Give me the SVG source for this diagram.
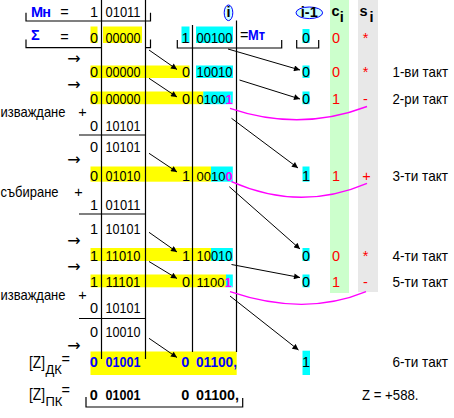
<svg xmlns="http://www.w3.org/2000/svg" width="454" height="418" viewBox="0 0 454 418">
<style>
text{font-family:"Liberation Sans",Arial,sans-serif;font-size:14.5px;fill:#000}
.b{font-weight:bold}
.blue{fill:#0000ff}
.red{fill:#ff0000}
.mag{fill:#ff00ff;font-weight:bold}
.m{text-anchor:middle}
.y{fill:#ffff00}
.c{fill:#00ffff}
.ln{stroke:#000;stroke-width:1.2;fill:none}
.ar{stroke:#000;stroke-width:1;fill:none;marker-end:url(#ah)}
.cv{stroke:#ff00ff;stroke-width:1.4;fill:none}
.sym{font-family:"DejaVu Sans",sans-serif;font-size:16px}
.sub{font-size:13px}
.z{font-size:16px}
.nw{font-size:13px}
</style>
<defs>
<marker id="ah" viewBox="0 0 10 10" refX="10" refY="5" markerWidth="7" markerHeight="6" markerUnits="userSpaceOnUse" orient="auto"><path d="M0,0 L10,5 L0,10 z" fill="#000"/></marker>
</defs>
<rect width="454" height="418" fill="#fff"/>

<g id="columns">
<rect x="330" y="0" width="19" height="293" fill="#ccffcc"/>
<rect x="358" y="0" width="20" height="292" fill="#e8e8e8"/>
</g>

<g id="highlights">
<rect class="y" x="90.5" y="26.5" width="7" height="16.5"/>
<rect class="y" x="103" y="26.5" width="39" height="16.5"/>
<rect class="c" x="181.5" y="26.5" width="8" height="16.5"/>
<rect class="c" x="196" y="26.5" width="37" height="16.5"/>
<rect class="c" x="302.5" y="29" width="7" height="14"/>

<rect class="y" x="90.5" y="65.5" width="99" height="12.5"/>
<rect class="c" x="196" y="65.5" width="37" height="12.5"/>
<rect class="c" x="302.5" y="65.5" width="7" height="12.5"/>

<rect class="y" x="90.5" y="91.5" width="113" height="12.7"/>
<rect class="c" x="203.3" y="91.5" width="29.5" height="12.7"/>
<rect class="c" x="302.5" y="91.5" width="7" height="12.7"/>

<rect class="y" x="90.5" y="166.5" width="120.5" height="15.2"/>
<rect class="c" x="211" y="166.5" width="21.8" height="15.2"/>
<rect class="c" x="302.5" y="166.5" width="7" height="15.2"/>

<rect class="y" x="90.5" y="248" width="120.5" height="13"/>
<rect class="c" x="211" y="248" width="21.8" height="13"/>
<rect class="c" x="302.5" y="248" width="7" height="13"/>

<rect class="y" x="90.5" y="274.5" width="135.5" height="12.8"/>
<rect class="c" x="226" y="274.5" width="6.8" height="12.8"/>
<rect class="c" x="302.5" y="274.5" width="7" height="12.8"/>

<rect class="y" x="90.5" y="351.5" width="146.2" height="23.5"/>
<rect class="c" x="302.5" y="350.7" width="7.5" height="24.3"/>
</g>

<g id="grid">
<line class="ln" x1="101.5" y1="0" x2="101.5" y2="359"/>
<line class="ln" x1="145.5" y1="0" x2="145.5" y2="359"/>
<line class="ln" x1="192.5" y1="25" x2="192.5" y2="352"/>
<line class="ln" x1="236.5" y1="20.5" x2="236.5" y2="352"/>
<line class="ln" x1="79" y1="135" x2="145.5" y2="135"/>
<line class="ln" x1="79" y1="214" x2="145.5" y2="214"/>
<line class="ln" x1="79" y1="318.5" x2="145.5" y2="318.5"/>
<path class="ln" d="M26,12.7 V21 H150.5 V12.7"/>
<path class="ln" d="M26,39.5 V47.7 H101.5 M150.5,39.5 V47.7 H145.5"/>
<path class="ln" d="M177.3,40 V48 H281.7 V40"/>
<path class="ln" d="M296.7,40 V48 H318.7 V40"/>
<path class="ln" d="M86,397 V407 H242.7 V398"/>
</g>

<g id="header">
<text class="b blue" x="31" y="16.5" textLength="20" lengthAdjust="spacing">Мн</text>
<text class="m" x="64.5" y="17">=</text>
<text class="m" x="94" y="17">1</text>
<text x="105.5" y="17" textLength="35" lengthAdjust="spacingAndGlyphs">01011</text>
<ellipse cx="228.5" cy="12.8" rx="4.3" ry="7.8" fill="#ccffff" stroke="#0000ff" stroke-width="1"/>
<text class="b m" x="228.5" y="17.3" font-size="12">i</text>
<ellipse cx="309.3" cy="12.8" rx="13.3" ry="5.8" fill="#ccffff" stroke="#0000ff" stroke-width="1"/>
<text class="b m" x="309.3" y="17" font-size="12">i-1</text>
<text class="b" x="331.5" y="16" font-size="15">c</text>
<text class="b" x="339.8" y="21.5" font-size="12">i</text>
<text class="b" x="359.5" y="16" font-size="15">s</text>
<text class="b" x="369.5" y="21.5" font-size="12">i</text>
</g>

<g id="row-sum">
<text class="b blue" x="31" y="40" font-size="13">Σ</text>
<text class="m" x="64.5" y="42">=</text>
<text class="m" x="94" y="42.5">0</text>
<text x="105.5" y="42.5" textLength="35" lengthAdjust="spacingAndGlyphs">00000</text>
<text class="m" x="185.5" y="42.5">1</text>
<text x="196.5" y="42.5" textLength="36" lengthAdjust="spacingAndGlyphs">00100</text>
<text x="240" y="40">=</text>
<text class="b blue" x="248" y="40" textLength="17" lengthAdjust="spacingAndGlyphs">Мт</text>
<text class="m" x="306" y="42.5">0</text>
<text class="m red" x="336" y="42.5">0</text>
<text class="m red" x="365.5" y="42.5">*</text>
</g>

<g id="shift-arrows">
<text class="sym m" x="74" y="63.5">→</text>
<text class="sym m" x="74" y="90.2">→</text>
<text class="sym m" x="74" y="164.5">→</text>
<text class="sym m" x="74" y="246.2">→</text>
<text class="sym m" x="74" y="271.9">→</text>
<text class="sym m" x="74" y="351.2">→</text>
</g>

<g id="takt1">
<text class="m" x="94" y="77">0</text>
<text x="105.5" y="77" textLength="35" lengthAdjust="spacingAndGlyphs">00000</text>
<text class="m" x="186" y="77">0</text>
<text x="196.5" y="77" textLength="36" lengthAdjust="spacingAndGlyphs">10010</text>
<text class="m" x="306" y="77">0</text>
<text class="m red" x="336" y="77">0</text>
<text class="m red" x="365.5" y="77">*</text>
<text x="392.5" y="77" textLength="55.5" lengthAdjust="spacingAndGlyphs">1-ви такт</text>
</g>

<g id="takt2">
<text class="m" x="94" y="103.5">0</text>
<text x="105.5" y="103.5" textLength="35" lengthAdjust="spacingAndGlyphs">00000</text>
<text class="m" x="186" y="103.5">0</text>
<text class="nw" x="196.5" y="103.5">0100<tspan class="mag">1</tspan></text>
<text class="m" x="306" y="103.5">0</text>
<text class="m red" x="336" y="103.5">1</text>
<text class="m red" x="365.5" y="103.5">-</text>
<text x="392.5" y="103.5" textLength="55.5" lengthAdjust="spacingAndGlyphs">2-ри такт</text>
<text x="0.5" y="117" textLength="65" lengthAdjust="spacingAndGlyphs">изваждане</text>
<text class="m" x="82.5" y="117">+</text>
<text class="m" x="94" y="130.7">0</text>
<text x="105.5" y="130.7" textLength="35" lengthAdjust="spacingAndGlyphs">10101</text>
<text class="m" x="94" y="151.7">0</text>
<text x="105.5" y="151.7" textLength="35" lengthAdjust="spacingAndGlyphs">10101</text>
</g>

<g id="takt3">
<text class="m" x="94" y="180.5">0</text>
<text x="105.5" y="180.5" textLength="35" lengthAdjust="spacingAndGlyphs">01010</text>
<text class="m" x="186" y="180.5">1</text>
<text class="nw" x="196.5" y="180.5">0010<tspan class="mag">0</tspan></text>
<text class="m" x="306" y="180.5">1</text>
<text class="m red" x="336" y="180.5">1</text>
<text class="m red" x="366.5" y="180.5">+</text>
<text x="392.5" y="180.5" textLength="55.5" lengthAdjust="spacingAndGlyphs">3-ти такт</text>
<text x="0.5" y="196.5" textLength="58" lengthAdjust="spacingAndGlyphs">събиране</text>
<text class="m" x="78.5" y="196.5">+</text>
<text class="m" x="94" y="210">1</text>
<text x="105.5" y="210" textLength="35" lengthAdjust="spacingAndGlyphs">01011</text>
<text class="m" x="94" y="234">1</text>
<text x="105.5" y="234" textLength="35" lengthAdjust="spacingAndGlyphs">10101</text>
</g>

<g id="takt4">
<text class="m" x="94" y="260.7">1</text>
<text x="105.5" y="260.7" textLength="35" lengthAdjust="spacingAndGlyphs">11010</text>
<text class="m" x="186" y="260.7">1</text>
<text x="196.5" y="260.7" textLength="36" lengthAdjust="spacingAndGlyphs">10010</text>
<text class="m" x="306" y="260.7">0</text>
<text class="m red" x="336" y="260.7">0</text>
<text class="m red" x="365.5" y="260.7">*</text>
<text x="392.5" y="260.7" textLength="55.5" lengthAdjust="spacingAndGlyphs">4-ти такт</text>
</g>

<g id="takt5">
<text class="m" x="94" y="286.7">1</text>
<text x="105.5" y="286.7" textLength="35" lengthAdjust="spacingAndGlyphs">11101</text>
<text class="m" x="186" y="286.7">0</text>
<text class="nw" x="196.5" y="286.7">1100<tspan class="mag">1</tspan></text>
<text class="m" x="306" y="286.7">0</text>
<text class="m red" x="336" y="286.7">1</text>
<text class="m red" x="365.5" y="286.7">-</text>
<text x="392.5" y="286.7" textLength="55.5" lengthAdjust="spacingAndGlyphs">5-ти такт</text>
<text x="0.5" y="300" textLength="65" lengthAdjust="spacingAndGlyphs">изваждане</text>
<text class="m" x="82.5" y="300">+</text>
<text class="m" x="94" y="313.3">0</text>
<text x="105.5" y="313.3" textLength="35" lengthAdjust="spacingAndGlyphs">10101</text>
<text class="m" x="94" y="336.7">0</text>
<text x="105.5" y="336.7" textLength="35" lengthAdjust="spacingAndGlyphs">10010</text>
</g>

<g id="takt6">
<text class="z" x="29" y="367.5" textLength="16" lengthAdjust="spacingAndGlyphs">[Z]</text>
<text class="sub" x="45.5" y="374">ДК</text>
<text x="61.5" y="364">=</text>
<text class="b blue m" x="93.7" y="366.7">0</text>
<text class="b blue" x="105.5" y="366.7" textLength="35" lengthAdjust="spacingAndGlyphs">01001</text>
<text class="b blue m" x="185.3" y="366.7">0</text>
<text class="b blue" x="196" y="366.7" textLength="41" lengthAdjust="spacingAndGlyphs">01100,</text>
<text class="m" x="306" y="367">1</text>
<text x="392.5" y="367" textLength="55.5" lengthAdjust="spacingAndGlyphs">6-ти такт</text>
</g>

<g id="result">
<text class="z" x="29" y="399.5" textLength="16" lengthAdjust="spacingAndGlyphs">[Z]</text>
<text class="sub" x="45.5" y="405.5">ПК</text>
<text x="61.5" y="395">=</text>
<text class="b m" x="93.7" y="400">0</text>
<text class="b" x="105.5" y="400" textLength="35" lengthAdjust="spacingAndGlyphs">01001</text>
<text class="b m" x="185.3" y="400">0</text>
<text class="b" x="196" y="400" textLength="43" lengthAdjust="spacingAndGlyphs">01100,</text>
<text x="362" y="400" textLength="56.5" lengthAdjust="spacingAndGlyphs">Z = +588.</text>
</g>

<g id="connectors">
<line class="ar" x1="149" y1="50" x2="177" y2="69.5"/>
<line class="ar" x1="149" y1="78.3" x2="177" y2="97"/>
<line class="ar" x1="149" y1="153.3" x2="177" y2="172"/>
<line class="ar" x1="149" y1="232.3" x2="177" y2="252"/>
<line class="ar" x1="149" y1="261.5" x2="177" y2="278.5"/>
<line class="ar" x1="149" y1="338.3" x2="177" y2="357.5"/>
<line class="ar" x1="228" y1="49" x2="300" y2="70"/>
<line class="ar" x1="239.5" y1="80" x2="300" y2="99"/>
<line class="ar" x1="231.5" y1="118.3" x2="298" y2="168"/>
<line class="ar" x1="229.3" y1="186.7" x2="300" y2="249"/>
<line class="ar" x1="231.5" y1="264.5" x2="300" y2="277.5"/>
<line class="ar" x1="230" y1="296" x2="298.5" y2="350"/>
<path class="cv" d="M230,108.3 Q300,132 367,106.5"/>
<path class="cv" d="M231.5,181.7 Q300,212 367,183.3"/>
<path class="cv" d="M230,291.7 Q305,317 366,291.7"/>
</g>
</svg>
